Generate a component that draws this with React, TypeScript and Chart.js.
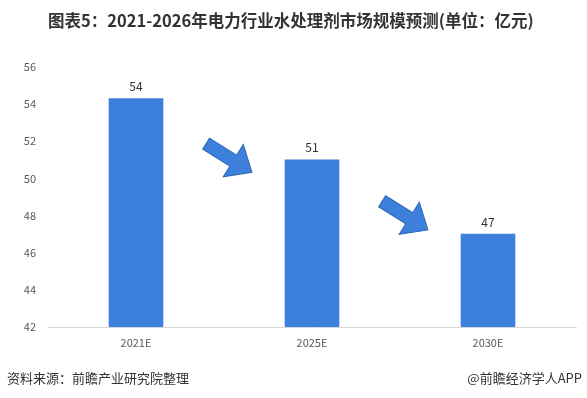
import React, { useEffect, useRef } from "react";
import { Chart, registerables } from "chart.js";

Chart.register(...registerables);

const categories = ["2021E", "2025E", "2030E"];
const marketSize = [54.3, 51.0, 47.0];
const yTicks = [42, 44, 46, 48, 50, 52, 54, 56];
const arrowLevels = [51.1, 48.0];

const TITLE = "图表5：2021-2026年电力行业水处理剂市场规模预测(单位：亿元)";
const SOURCE = "资料来源：前瞻产业研究院整理";
const BRAND = "@前瞻经济学人APP";

const BAR_COLOR = "#3D80DC";
const FONT = "'Noto Sans CJK SC', 'Noto Sans', sans-serif";

const decorPlugin = {
  id: "decor",
  afterDatasetsDraw(chart: any) {
    const ctx = chart.ctx;
    const xs = chart.scales.x;
    const ys = chart.scales.y;
    const meta = chart.getDatasetMeta(0);
    // value labels
    ctx.save();
    ctx.fillStyle = "#333333";
    ctx.font = `12px ${FONT}`;
    ctx.textAlign = "center";
    ctx.textBaseline = "bottom";
    meta.data.forEach((bar: any, i: number) => {
      ctx.fillText(String(Math.round(marketSize[i])), bar.x, bar.y - 6);
    });
    ctx.restore();
    // arrows
    arrowLevels.forEach((lv, i) => {
      const cx = (xs.getPixelForValue(i) + xs.getPixelForValue(i + 1)) / 2 + 5;
      const cy = ys.getPixelForValue(lv);
      ctx.save();
      ctx.translate(cx, cy);
      ctx.rotate((32 * Math.PI) / 180);
      ctx.beginPath();
      ctx.moveTo(-27, -6.5);
      ctx.lineTo(5, -6.5);
      ctx.lineTo(5, -19);
      ctx.lineTo(27, 0);
      ctx.lineTo(5, 19);
      ctx.lineTo(5, 6.5);
      ctx.lineTo(-27, 6.5);
      ctx.closePath();
      ctx.fillStyle = BAR_COLOR;
      ctx.fill();
      ctx.strokeStyle = "#2E64B4";
      ctx.lineWidth = 1;
      ctx.stroke();
      ctx.restore();
    });
  },
};

export default function App() {
  const ref = useRef<HTMLCanvasElement>(null);
  useEffect(() => {
    if (!ref.current) return;
    const chart = new Chart(ref.current, {
      type: "bar",
      data: {
        labels: categories,
        datasets: [
          {
            data: marketSize,
            backgroundColor: BAR_COLOR,
            borderWidth: 0,
            barThickness: 54,
          },
        ],
      },
      options: {
        animation: false,
        responsive: false,
        maintainAspectRatio: false,
        layout: { padding: { top: 67, right: 11, left: 0, bottom: 0 } },
        plugins: {
          legend: { display: false },
          tooltip: { enabled: false },
        },
        scales: {
          x: {
            grid: { display: false, drawTicks: false },
            border: { display: true, color: "#D9D9D9", width: 1 },
            ticks: {
              color: "#595959",
              font: { size: 11, family: FONT },
              padding: 9,
            },
            afterFit: (s: any) => {
              s.height = 71;
            },
          },
          y: {
            min: 42,
            max: 56,
            afterBuildTicks: (s: any) => {
              s.ticks = yTicks.map((v) => ({ value: v }));
            },
            grid: { display: false, drawTicks: false },
            border: { display: false },
            ticks: {
              color: "#595959",
              font: { size: 11, family: FONT },
              padding: 12,
            },
            afterFit: (s: any) => {
              s.width = 48;
            },
          },
        },
      },
      plugins: [decorPlugin],
    });
    return () => chart.destroy();
  }, []);

  return (
    <div
      style={{
        position: "fixed",
        left: 0,
        top: 0,
        width: 587,
        height: 398,
        background: "#ffffff",
        overflow: "hidden",
      }}
    >
      <canvas
        ref={ref}
        width={587}
        height={398}
        style={{ position: "absolute", left: 0, top: 0, width: 587, height: 398 }}
      />
      <div
        style={{
          position: "absolute",
          left: 48,
          top: 9,
          fontFamily: FONT,
          fontWeight: "bold",
          fontSize: 16.5,
          lineHeight: "22px",
          color: "#333333",
          whiteSpace: "nowrap",
        }}
      >
        {TITLE}
      </div>
      <div
        style={{
          position: "absolute",
          left: 7,
          top: 369,
          fontFamily: FONT,
          fontSize: 13,
          lineHeight: "18px",
          color: "#333333",
          whiteSpace: "nowrap",
        }}
      >
        {SOURCE}
      </div>
      <div
        style={{
          position: "absolute",
          right: 5,
          top: 369,
          fontFamily: FONT,
          fontSize: 13,
          lineHeight: "18px",
          color: "#333333",
          whiteSpace: "nowrap",
        }}
      >
        {BRAND}
      </div>
    </div>
  );
}
